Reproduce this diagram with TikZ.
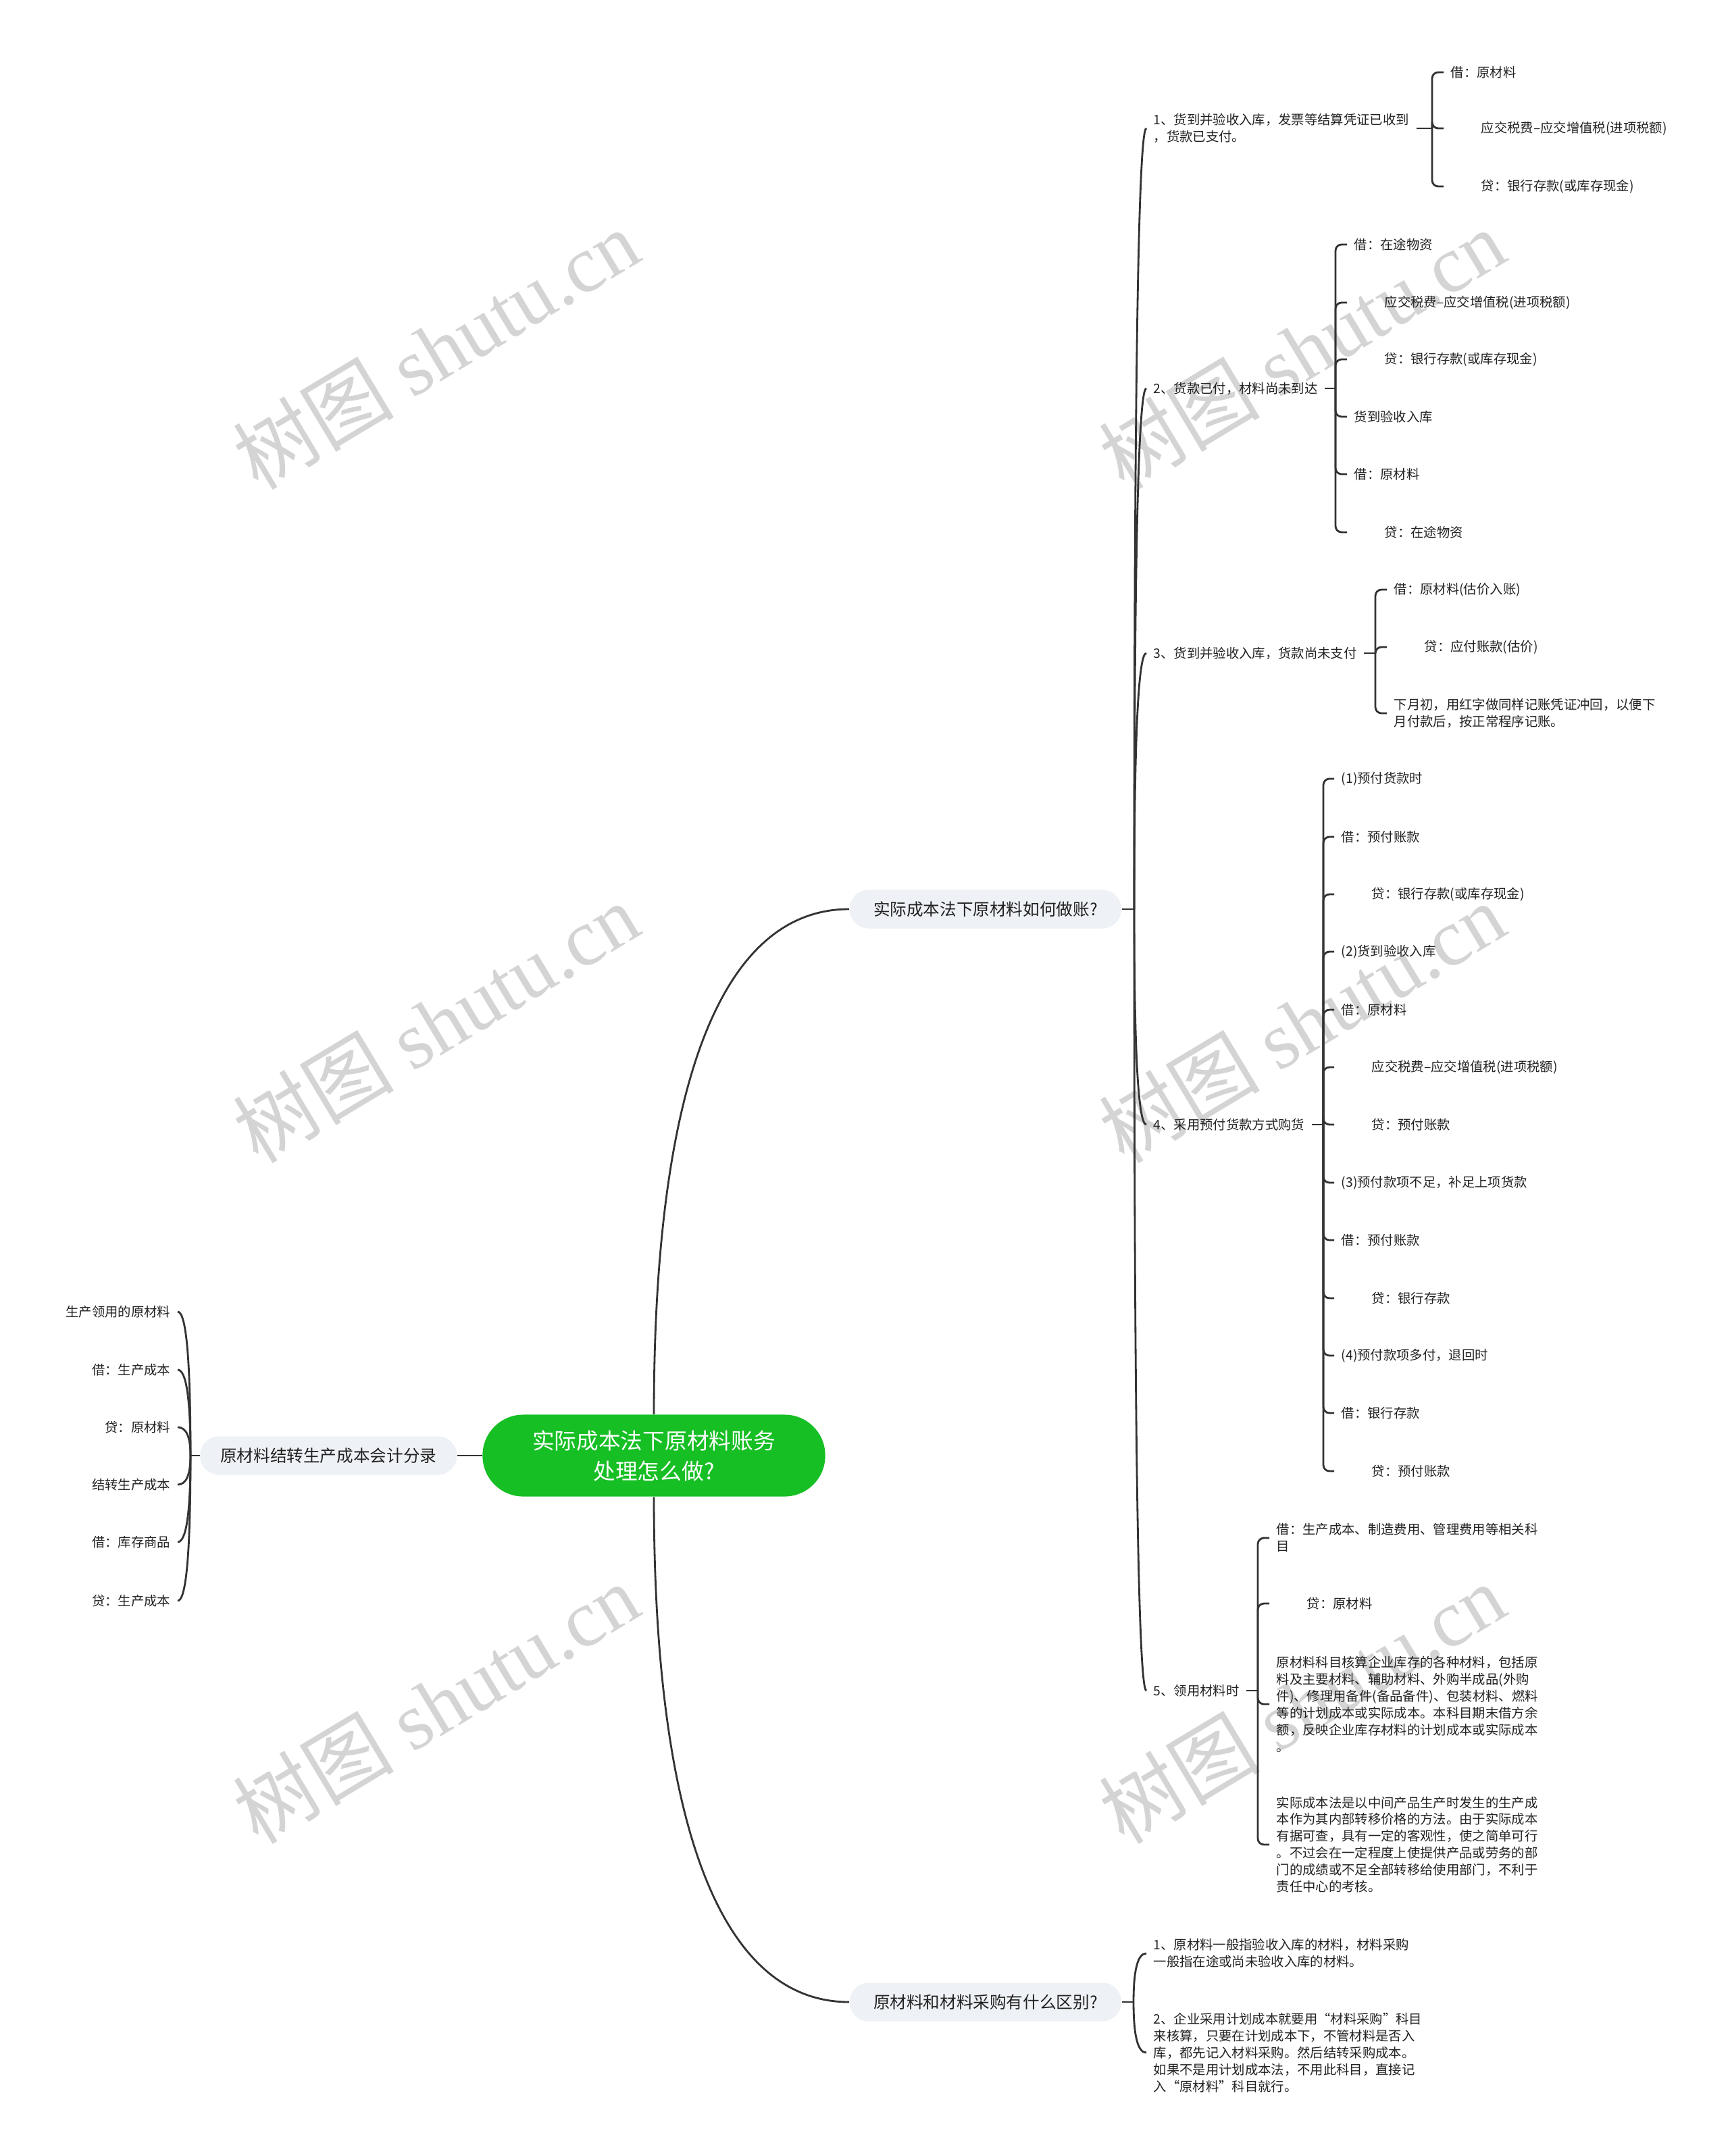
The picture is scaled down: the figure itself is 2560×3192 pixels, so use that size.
\documentclass[tikz,border=0pt]{standalone}
\usepackage{fontspec}
\setmainfont{Noto Sans CJK SC}
\newfontfamily\serifwm{Liberation Serif}
\usetikzlibrary{calc,positioning}

\definecolor{verde}{RGB}{22,191,36}
\definecolor{grigio}{RGB}{238,241,245}
\definecolor{scuro}{RGB}{51,51,51}
\definecolor{testo}{RGB}{34,34,34}

\pgfdeclarelayer{sfondo}
\pgfsetlayers{sfondo,main}

% collegamento curvo
\newcommand{\curva}[2]{%
  \draw[linea] (#1) .. controls ($(#1)!0.667!(#1|-#2)$) and ($(#2)!0.667!(#1|-#2)$) .. (#2);}
% collegamento a graffa
\newcommand{\graffa}[2]{\draw[linea, rounded corners=0.09cm] (#1) |- (#2);}
\newcommand{\rientro}{\hspace*{0.45cm}}

\begin{document}
\begin{tikzpicture}[x=0.01cm, y=-0.01cm,
  linea/.style={draw=scuro, line width=0.8pt},
  foglia/.style={anchor=west, inner xsep=0.1cm, inner ysep=0pt, align=left,
    text=testo, font=\fontsize{5.5pt}{7.1pt}\selectfont},
  foglias/.style={foglia, anchor=east, align=right},
  ramo/.style={fill=grigio, rounded corners=0.28cm, minimum height=0.57cm,
    inner xsep=0.3cm, text=testo, font=\fontsize{7pt}{8.5pt}\selectfont},
  radice/.style={fill=verde, text=white, rounded corners=0.6cm, minimum width=5.07cm,
    minimum height=1.21cm, align=center, font=\fontsize{9.3pt}{12.8pt}\selectfont},
  filigrana/.style={text=black!17, rotate=31, font=\fontsize{34pt}{39pt}\selectfont}]

  \useasboundingbox (0,0) rectangle (2560,3192);

  % nodo centrale
  \node[radice] (rc) at (968,2155) {实际成本法下原材料账务\\处理怎么做?};

  % rami principali
  \node[ramo, anchor=east] (bl) at (677,2155) {原材料结转生产成本会计分录};
  \node[ramo, anchor=west, minimum width=4.02cm] (b1) at (1257,1346) {实际成本法下原材料如何做账?};
  \node[ramo, anchor=west, minimum width=4.02cm] (b3) at (1257,2964) {原材料和材料采购有什么区别?};

  % foglie a sinistra
  \node[foglias] (l1) at (263,1942) {生产领用的原材料};
  \node[foglias] (l2) at (263,2028) {借：生产成本};
  \node[foglias] (l3) at (263,2113) {贷：原材料};
  \node[foglias] (l4) at (263,2198) {结转生产成本};
  \node[foglias] (l5) at (263,2283) {借：库存商品};
  \node[foglias] (l6) at (263,2370) {贷：生产成本};

  % figli del primo ramo
  \node[foglia] (r1) at (1697,190) {1、货到并验收入库，发票等结算凭证已收到\\，货款已支付。};
  \node[foglia] (r2) at (1697,575) {2、货款已付，材料尚未到达};
  \node[foglia] (r3) at (1697,967) {3、货到并验收入库，货款尚未支付};
  \node[foglia] (r4) at (1697,1665) {4、采用预付货款方式购货};
  \node[foglia] (r5) at (1697,2503) {5、领用材料时};

  % gruppo 1
  \node[foglia] (a11) at (2137,107) {借：原材料};
  \node[foglia] (a12) at (2137,190) {\rientro 应交税费–应交增值税(进项税额)};
  \node[foglia] (a13) at (2137,276) {\rientro 贷：银行存款(或库存现金)};

  % gruppo 2
  \node[foglia] (a21) at (1994,362) {借：在途物资};
  \node[foglia] (a22) at (1994,448) {\rientro 应交税费–应交增值税(进项税额)};
  \node[foglia] (a23) at (1994,532) {\rientro 贷：银行存款(或库存现金)};
  \node[foglia] (a24) at (1994,617) {货到验收入库};
  \node[foglia] (a25) at (1994,702) {借：原材料};
  \node[foglia] (a26) at (1994,788) {\rientro 贷：在途物资};

  % gruppo 3
  \node[foglia] (a31) at (2053,873) {借：原材料(估价入账)};
  \node[foglia] (a32) at (2053,958) {\rientro 贷：应付账款(估价)};
  \node[foglia] (a33) at (2053,1056) {下月初，用红字做同样记账凭证冲回，以便下\\月付款后，按正常程序记账。};

  % gruppo 4
  \node[foglia] (a41) at (1975,1153) {(1)预付货款时};
  \node[foglia] (a42) at (1975,1239) {借：预付账款};
  \node[foglia] (a43) at (1975,1324) {\rientro 贷：银行存款(或库存现金)};
  \node[foglia] (a44) at (1975,1409) {(2)货到验收入库};
  \node[foglia] (a45) at (1975,1495) {借：原材料};
  \node[foglia] (a46) at (1975,1580) {\rientro 应交税费–应交增值税(进项税额)};
  \node[foglia] (a47) at (1975,1665) {\rientro 贷：预付账款};
  \node[foglia] (a48) at (1975,1751) {(3)预付款项不足，补足上项货款};
  \node[foglia] (a49) at (1975,1836) {借：预付账款};
  \node[foglia] (a410) at (1975,1922) {\rientro 贷：银行存款};
  \node[foglia] (a411) at (1975,2007) {(4)预付款项多付，退回时};
  \node[foglia] (a412) at (1975,2092) {借：银行存款};
  \node[foglia] (a413) at (1975,2178) {\rientro 贷：预付账款};

  % gruppo 5
  \node[foglia] (a51) at (1879,2277) {借：生产成本、制造费用、管理费用等相关科\\目};
  \node[foglia] (a52) at (1879,2374) {\rientro 贷：原材料};
  \node[foglia] (a53) at (1879,2523) {原材料科目核算企业库存的各种材料，包括原\\料及主要材料、辅助材料、外购半成品(外购\\件)、修理用备件(备品备件)、包装材料、燃料\\等的计划成本或实际成本。本科目期末借方余\\额，反映企业库存材料的计划成本或实际成本\\。};
  \node[foglia] (a54) at (1879,2731) {实际成本法是以中间产品生产时发生的生产成\\本作为其内部转移价格的方法。由于实际成本\\有据可查，具有一定的客观性，使之简单可行\\。不过会在一定程度上使提供产品或劳务的部\\门的成绩或不足全部转移给使用部门，不利于\\责任中心的考核。};

  % figli del terzo ramo
  \node[foglia] (s1) at (1697,2892) {1、原材料一般指验收入库的材料，材料采购\\一般指在途或尚未验收入库的材料。};
  \node[foglia] (s2) at (1697,3039) {2、企业采用计划成本就要用“材料采购”科目\\来核算，只要在计划成本下，不管材料是否入\\库，都先记入材料采购。然后结转采购成本。\\如果不是用计划成本法，不用此科目，直接记\\入“原材料”科目就行。};

  % punti di giunzione
  \coordinate (jl) at (282,2155);
  \coordinate (j1) at (1679,1346);
  \coordinate (j3) at (1678,2964);
  \coordinate (g1) at (2120,190);
  \coordinate (g2) at (1977,575);
  \coordinate (g3) at (2036,967);
  \coordinate (g4) at (1959,1665);
  \coordinate (g5) at (1862,2503);

  \begin{pgfonlayer}{sfondo}
    % sfondo
    \fill[white] (0,0) rectangle (2560,3192);

    % filigrana
    \node[filigrana] (w1) at (645,517) {树图 {\serifwm shutu.cn}};
    \node[filigrana] (w2) at (645,1514) {树图 {\serifwm shutu.cn}};
    \node[filigrana] (w3) at (645,2522) {树图 {\serifwm shutu.cn}};
    \node[filigrana] (w4) at (1927,517) {树图 {\serifwm shutu.cn}};
    \node[filigrana] (w5) at (1927,1514) {树图 {\serifwm shutu.cn}};
    \node[filigrana] (w6) at (1927,2522) {树图 {\serifwm shutu.cn}};

    % dal centro
    \draw[linea] (rc.west) -- (bl.east);
    \curva{rc}{b1.west}
    \curva{rc}{b3.west}

    % ramo sinistro
    \draw[linea] (bl.west) -- (jl);
    \curva{jl}{l1.east}
    \curva{jl}{l2.east}
    \curva{jl}{l3.east}
    \curva{jl}{l4.east}
    \curva{jl}{l5.east}
    \curva{jl}{l6.east}

    % primo ramo
    \draw[linea] (b1.east) -- (j1);
    \curva{j1}{r1.west}
    \curva{j1}{r2.west}
    \curva{j1}{r3.west}
    \curva{j1}{r4.west}
    \curva{j1}{r5.west}

    % terzo ramo
    \draw[linea] (b3.east) -- (j3);
    \curva{j3}{s1.west}
    \curva{j3}{s2.west}

    % graffe
    \draw[linea] (r1.east) -- (g1);
    \graffa{g1}{a11.west}
    \graffa{g1}{a12.west}
    \graffa{g1}{a13.west}

    \draw[linea] (r2.east) -- (g2);
    \graffa{g2}{a21.west}
    \graffa{g2}{a22.west}
    \graffa{g2}{a23.west}
    \graffa{g2}{a24.west}
    \graffa{g2}{a25.west}
    \graffa{g2}{a26.west}

    \draw[linea] (r3.east) -- (g3);
    \graffa{g3}{a31.west}
    \graffa{g3}{a32.west}
    \graffa{g3}{a33.west}

    \draw[linea] (r4.east) -- (g4);
    \graffa{g4}{a41.west}
    \graffa{g4}{a42.west}
    \graffa{g4}{a43.west}
    \graffa{g4}{a44.west}
    \graffa{g4}{a45.west}
    \graffa{g4}{a46.west}
    \graffa{g4}{a47.west}
    \graffa{g4}{a48.west}
    \graffa{g4}{a49.west}
    \graffa{g4}{a410.west}
    \graffa{g4}{a411.west}
    \graffa{g4}{a412.west}
    \graffa{g4}{a413.west}

    \draw[linea] (r5.east) -- (g5);
    \graffa{g5}{a51.west}
    \graffa{g5}{a52.west}
    \graffa{g5}{a53.west}
    \graffa{g5}{a54.west}
  \end{pgfonlayer}
\end{tikzpicture}
\end{document}
